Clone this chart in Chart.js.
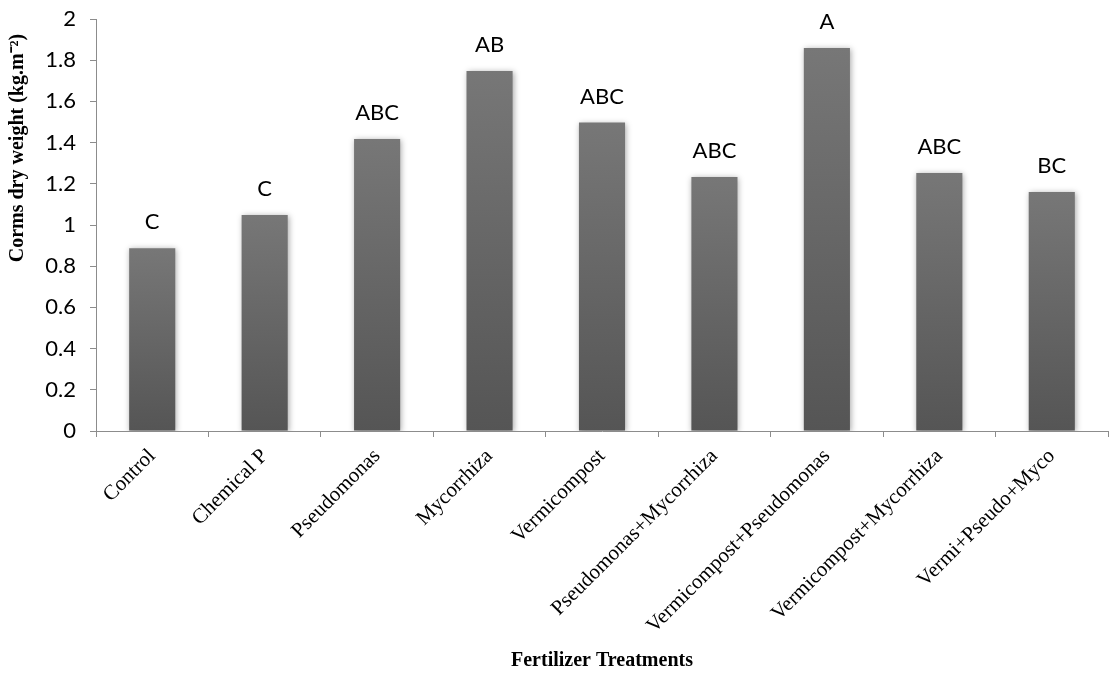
<!DOCTYPE html>
<html><head><meta charset="utf-8">
<script src="https://cdn.jsdelivr.net/npm/chart.js@4.4.0/dist/chart.umd.min.js"></script>
<style>html,body{margin:0;padding:0;background:#fff}#wrap{width:1115px;height:674px}</style>
</head><body><div id="wrap"><canvas id="c" width="1115" height="674"></canvas></div>
<script>
const categories = ['Control','Chemical P','Pseudomonas','Mycorrhiza','Vermicompost','Pseudomonas+Mycorrhiza','Vermicompost+Pseudomonas','Vermicompost+Mycorrhiza','Vermi+Pseudo+Myco'];
const values = [0.887, 1.049, 1.417, 1.748, 1.497, 1.233, 1.859, 1.252, 1.160];
const groupLetters = ['C','C','ABC','AB','ABC','ABC','A','ABC','BC'];
const yTickLabels = ['0','0.2','0.4','0.6','0.8','1','1.2','1.4','1.6','1.8','2'];
const xAxisTitle = 'Fertilizer Treatments';
const yAxisTitle = 'Corms dry weight (kg.m\u207B\u00B2)';

const axisColor = '#8c8c8c';

const barShadow = {
  id: 'barShadow',
  beforeDatasetsDraw(chart) {
    const ctx = chart.ctx;
    ctx.save();
    ctx.shadowColor = 'rgba(0,0,0,0.35)';
    ctx.shadowBlur = 6;
    ctx.shadowOffsetX = 1;
    ctx.shadowOffsetY = 1;
  },
  afterDatasetsDraw(chart) {
    chart.ctx.restore();
  }
};

const letterLabels = {
  id: 'letterLabels',
  afterDatasetsDraw(chart) {
    const ctx = chart.ctx;
    const meta = chart.getDatasetMeta(0);
    ctx.save();
    ctx.font = '22px Lato, "Open Sans", sans-serif';
    ctx.fillStyle = '#000';
    ctx.textAlign = 'center';
    ctx.textBaseline = 'middle';
    meta.data.forEach((bar, i) => {
      ctx.fillText(groupLetters[i], bar.x, bar.y - 26);
    });
    ctx.restore();
  }
};

const yTitlePlugin = {
  id: 'yTitlePlugin',
  afterDraw(chart) {
    const ctx = chart.ctx;
    ctx.save();
    ctx.translate(18, 148);
    ctx.rotate(-Math.PI / 2);
    ctx.font = 'bold 20px "Liberation Serif", "Times New Roman", serif';
    ctx.fillStyle = '#000';
    ctx.textAlign = 'center';
    ctx.textBaseline = 'middle';
    ctx.fillText(yAxisTitle, 0, 0);
    ctx.restore();
  }
};

new Chart(document.getElementById('c'), {
  type: 'bar',
  data: {
    labels: categories,
    datasets: [{
      data: values,
      backgroundColor(context) {
        const chart = context.chart;
        const ys = chart.scales && chart.scales.y;
        if (!ys || context.type !== 'data') return '#666';
        const top = ys.getPixelForValue(context.raw);
        const bottom = ys.getPixelForValue(0);
        if (!isFinite(top) || !isFinite(bottom) || top === bottom) return '#666';
        const g = chart.ctx.createLinearGradient(0, top, 0, bottom);
        g.addColorStop(0, '#777777');
        g.addColorStop(1, '#555555');
        return g;
      },
      borderWidth: 0,
      barPercentage: 0.41,
      categoryPercentage: 1.0
    }]
  },
  options: {
    responsive: false,
    animation: false,
    devicePixelRatio: 1,
    layout: { padding: { top: 19, right: 7, left: 0, bottom: 0 } },
    plugins: { legend: { display: false }, tooltip: { enabled: false }, title: { display: false } },
    scales: {
      x: {
        offset: true,
        grid: { display: true, offset: true, drawOnChartArea: false, drawTicks: true, tickLength: 6, color: axisColor },
        border: { display: true, color: axisColor, width: 1 },
        ticks: {
          autoSkip: false, minRotation: 45, maxRotation: 45, padding: 7,
          color: '#000',
          font: { family: '"Liberation Serif", "Times New Roman", serif', size: 21 }
        },
        title: {
          display: true, text: xAxisTitle, color: '#000',
          font: { family: '"Liberation Serif", "Times New Roman", serif', size: 20, weight: 'bold' },
          padding: { top: 0, bottom: 1 }
        },
        afterFit(scale) { scale.height = 243; scale.paddingLeft = 0; scale.paddingRight = 0; }
      },
      y: {
        min: 0, max: 2,
        grid: { display: true, drawOnChartArea: false, drawTicks: true, tickLength: 6, color: axisColor },
        border: { display: true, color: axisColor, width: 1 },
        ticks: {
          stepSize: 0.2, padding: 14, color: '#000',
          font: { family: 'Lato, "Open Sans", sans-serif', size: 22 },
          callback(value, index) { return yTickLabels[index]; }
        },
        afterFit(scale) { scale.width = 96; scale.paddingTop = 0; scale.paddingBottom = 0; }
      }
    }
  },
  plugins: [barShadow, letterLabels, yTitlePlugin]
});
</script>
</body></html>
